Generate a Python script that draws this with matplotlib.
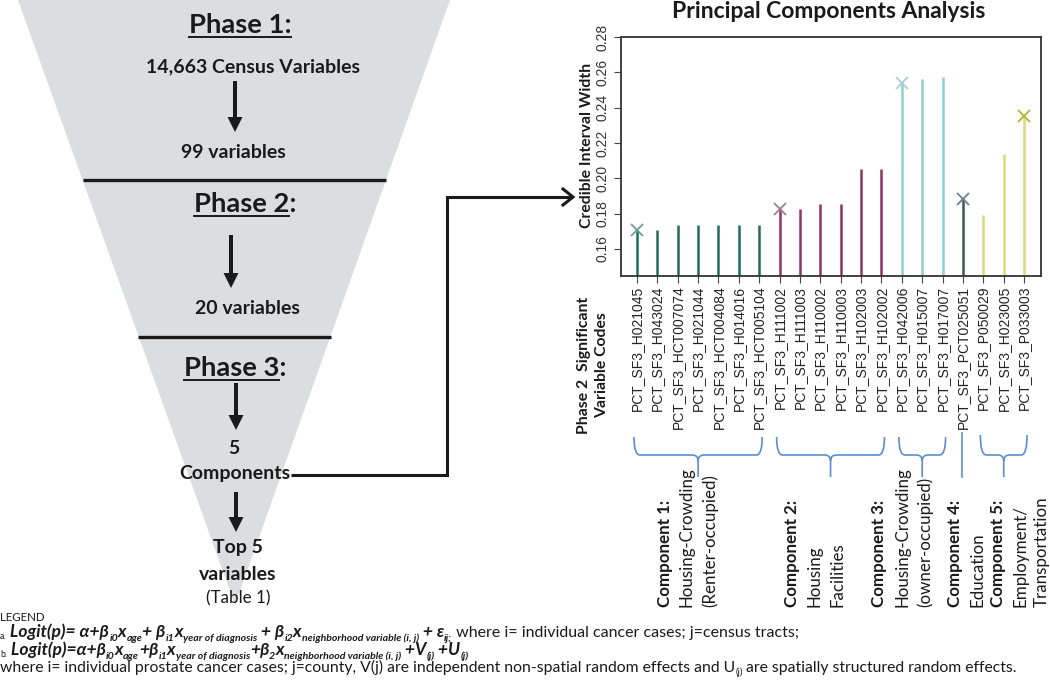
import matplotlib
matplotlib.use("Agg")
import matplotlib.pyplot as plt
import numpy as np
from matplotlib.patches import Polygon, FancyArrow, PathPatch
from matplotlib.path import Path

# variable codes, credible interval width, and the component each belongs to
codes = ["PCT_SF3_H021045", "PCT_SF3_H043024", "PCT_SF3_HCT007074", "PCT_SF3_H021044",
         "PCT_SF3_HCT004084", "PCT_SF3_H014016", "PCT_SF3_HCT005104", "PCT_SF3_H111002",
         "PCT_SF3_H111003", "PCT_SF3_H110002", "PCT_SF3_H110003", "PCT_SF3_H102003",
         "PCT_SF3_H102002", "PCT_SF3_H042006", "PCT_SF3_H015007", "PCT_SF3_H017007",
         "PCT_SF3_PCT025051", "PCT_SF3_P050029", "PCT_SF3_H023005", "PCT_SF3_P033003"]
ci_width = [0.171, 0.171, 0.1735, 0.1735, 0.1735, 0.1735, 0.1735, 0.1825, 0.1825, 0.1855,
            0.1855, 0.2055, 0.2055, 0.254, 0.2565, 0.2575, 0.1885, 0.1795, 0.214, 0.235]
component = [1, 1, 1, 1, 1, 1, 1, 2, 2, 2, 2, 2, 2, 3, 3, 3, 4, 5, 5, 5]
most_significant = [0, 7, 13, 16, 19]

comp_titles = ["Component 1:", "Component 2:", "Component 3:", "Component 4:", "Component 5:"]
comp_desc = [["Housing-Crowding", "(Renter-occupied)"], ["Housing", "Facilities"],
             ["Housing-Crowding", "(owner-occupied)"], ["Education"],
             ["Employment/", "Transportation"]]
y_ticks = [0.16, 0.18, 0.20, 0.22, 0.24, 0.26, 0.28]

funnel_steps = [("14,663 Census Variables", 253, 67), ("99 variables", 233, 152),
                ("20 variables", 247, 308), ("5", 234, 448), ("Components", 235, 474),
                ("Top 5", 238, 548), ("variables", 238, 575)]

bar_colors = {1: "#1f6b5c", 2: "#8a3467", 3: "#8dcfd1", 4: "#3e5566", 5: "#d8db7d"}
x_colors = {1: "#6f9c95", 2: "#9a8090", 3: "#a9cfd2", 4: "#6d808d", 5: "#b3b330"}
SANS = ["Lato", "DejaVu Sans"]
INK = "#1a1a1a"
BLUE = "#5b8ed1"

fig = plt.figure(figsize=(10.5, 6.84), dpi=100)
ov = fig.add_axes([0, 0, 1, 1])
ov.set_xlim(0, 1050)
ov.set_ylim(684, 0)
ov.axis("off")
r = fig.canvas.get_renderer()


def width_of(s, **kw):
    t = ov.text(0, 0, s, **kw)
    w = t.get_window_extent(r).width
    t.remove()
    return w


def advance(s, **kw):
    # pen advance of s, spaces included
    return width_of("|" + s + "|", **kw) - width_of("||", **kw)


def fit(s, target, base=12, **kw):
    return base * target / width_of(s, fontsize=base, **kw)


# ---- funnel ----
ov.add_patch(Polygon([(18, 0), (450, 0), (235, 605)], closed=True, fc="#dcdddf", ec="none"))
ov.plot([83, 386], [180, 180], color=INK, lw=2.4, solid_capstyle="butt")
ov.plot([138, 331], [337, 337], color=INK, lw=2.4, solid_capstyle="butt")

fs_phase = fit("Phase 1:", 102, fontweight="bold", family=SANS)
for label, under, cx, cy in [("Phase 1:", "Phase 1:", 240, 25), ("Phase 2:", "Phase 2", 245, 204),
                             ("Phase 3:", "Phase 3", 235, 368)]:
    t = ov.text(cx, cy, label, fontsize=fs_phase, fontweight="bold", family=SANS,
                ha="center", va="center", color=INK)
    x0 = t.get_window_extent(r).x0
    uw = width_of(under, fontsize=fs_phase, fontweight="bold", family=SANS)
    ov.plot([x0, x0 + uw], [cy + 12, cy + 12], color=INK, lw=1.4)

fs_step = fit("14,663 Census Variables", 212, fontweight="bold", family=SANS)
for s, cx, cy in funnel_steps:
    ov.text(cx, cy, s, fontsize=fs_step, fontweight="bold", family=SANS,
            ha="center", va="center", color=INK)
ov.text(238, 598, "(Table 1)", fontsize=fit("(Table 1)", 64, family=SANS), family=SANS,
        ha="center", va="center", color=INK)

for x, y0, y1 in [(235, 81, 132), (231, 235, 288), (236, 383, 430), (236, 492, 532)]:
    ov.add_patch(FancyArrow(x, y0, 0, y1 - y0, width=4, head_width=15, head_length=15,
                            length_includes_head=True, fc=INK, ec="none"))

ov.plot([291, 447, 447, 572], [475, 475, 197, 197], color=INK, lw=2.2,
        solid_joinstyle="miter", solid_capstyle="butt")
ov.plot([563, 573, 563], [189, 197, 205], color=INK, lw=2.2, solid_joinstyle="miter")

# ---- chart ----
ax = fig.add_axes([621 / 1050, (684 - 276) / 684, 420 / 1050, 239 / 684])
xs = np.arange(1, len(codes) + 1)
cols = [bar_colors[c] for c in component]
ax.vlines(xs, 0, ci_width, colors=cols, lw=1.8)
for i in most_significant:
    ax.plot(xs[i], ci_width[i], "x", ms=9, mew=1.3, color=x_colors[component[i]])
ax.set_xlim(0.215, 20.83)
ax.set_ylim(0.1447, 0.28)
ax.set_xticks(xs)
ax.set_xticklabels(codes, rotation=90, family="Liberation Sans", fontsize=10, color="#222")
ax.set_yticks(y_ticks)
ax.set_yticklabels([f"{v:.2f}" for v in y_ticks], rotation=90, va="center",
                   family="Liberation Sans", fontsize=10, color="#333")
ax.tick_params(axis="x", length=5, color="#444", pad=2)
ax.tick_params(axis="y", length=5, color="#444", pad=3)
for sp in ax.spines.values():
    sp.set_color("#333")
    sp.set_linewidth(1.3)

ov.text(829, 11, "Principal Components Analysis", fontweight="bold", family=SANS,
        fontsize=fit("Principal Components Analysis", 312, fontweight="bold", family=SANS),
        ha="center", va="center", color=INK)
fs_ylab = fit("Credible Interval Width", 164, fontweight="bold", family=SANS)
ov.text(587, 145, "Credible Interval Width", fontsize=fs_ylab, fontweight="bold", family=SANS,
        rotation=90, ha="center", va="center", color=INK)
fs_note = fit("X= most significant variable in", 148, family=SANS)
ov.text(652, 87, "X= most significant variable in", fontsize=fs_note, family=SANS, va="center", color="#222")
ov.text(652, 102, "each color-coded component", fontsize=fs_note, family=SANS, va="center", color="#222")
ov.text(631, 169, "Top", fontsize=11, family=SANS, va="center", color="#222")
ov.text(631, 187, "hit", fontsize=11, family=SANS, va="center", color="#222")
ov.add_patch(FancyArrow(638, 195, 0, 21, width=2.2, head_width=9, head_length=9,
                        length_includes_head=True, fc="#4a7ec6", ec="none"))

ov.text(593, 365, "Phase 2  Significant\nVariable Codes", fontsize=fs_ylab, fontweight="bold",
        family=SANS, rotation=90, ha="center", va="center", multialignment="center",
        linespacing=1.3, color=INK)

# ---- braces and component labels ----
fig.canvas.draw()
px = ax.transData.transform(np.column_stack([xs, np.full(len(xs), 0.2)]))[:, 0]


def brace(x0, x1, yt, ym, yb, rad=6):
    xc = (x0 + x1) / 2
    verts = [(x0, yt), (x0, ym), (x0 + rad, ym), (xc - rad, ym), (xc, ym), (xc, ym + rad), (xc, yb),
             (xc, ym + rad), (xc, ym), (xc + rad, ym), (x1 - rad, ym), (x1, ym), (x1, yt)]
    codes_ = [Path.MOVETO, Path.CURVE3, Path.CURVE3, Path.LINETO, Path.CURVE3, Path.CURVE3, Path.LINETO,
              Path.MOVETO, Path.CURVE3, Path.CURVE3, Path.LINETO, Path.CURVE3, Path.CURVE3]
    ov.add_patch(PathPatch(Path(verts, codes_), fc="none", ec=BLUE, lw=1.2))


comp_arr = np.array(component)
for c in range(1, 6):
    idx = np.where(comp_arr == c)[0]
    x0, x1 = px[idx[0]] - 3, px[idx[-1]] + 3
    if len(idx) == 1:
        ov.plot([px[idx[0]] - 1, px[idx[0]] - 1], [433, 477], color=BLUE, lw=1.2)
    else:
        brace(x0, x1, 435 if c == 5 else 437, 455, 477)

fs_comp = fit("Component 1:", 106, fontweight="bold", family=SANS)
comp_cols = [[665, 687, 710], [792, 814, 837], [879, 902, 925], [955, 977], [998, 1020, 1042]]
for title, desc, colx in zip(comp_titles, comp_desc, comp_cols):
    ov.text(colx[0], 607, title, fontsize=fs_comp, fontweight="bold", family=SANS,
            rotation=90, ha="center", va="bottom", color=INK)
    for s, x in zip(desc, colx[1:]):
        ov.text(x, 607, s, fontsize=fs_comp, family=SANS, rotation=90,
                ha="center", va="bottom", color=INK)

# ---- legend equations ----
STYLE = {"m": (1.0, 0.0, "bold", "italic"), "s": (0.6, 0.22, "bold", "italic"),
         "r": (1.0, 0.0, "normal", "normal"), "rs": (0.6, 0.22, "normal", "normal"),
         "l": (0.5, 0.12, "normal", "normal")}


def runs(x, y, items, base, reg=None, keep=True):
    reg = reg or base
    for s, kind in items:
        k, dy, w, st = STYLE[kind]
        size = (reg if kind.startswith("r") else base) * k
        kw = dict(fontsize=size, fontweight=w, fontstyle=st, family=SANS)
        if keep:
            ov.text(x, y + dy * size / k * 100 / 72, s, va="baseline", ha="left", color=INK, **kw)
        x += advance(s, **kw)
    return x


line_a = [("a.", "l"), (" Logit(p)= α+β", "m"), ("i0", "s"), ("x", "m"), ("age", "s"), ("+ β", "m"),
          ("i1", "s"), ("x", "m"), ("year of diagnosis", "s"), (" + β", "m"), ("i2", "s"), ("x", "m"),
          ("neighborhood variable (i, j)", "s"), (" + ε", "m"), ("ij;", "s")]
tail_a = [(" where i= individual cancer cases; j=census tracts;", "r")]
line_b = [("b.", "l"), (" Logit(p)=α+β", "m"), ("i0", "s"), ("x", "m"), ("age", "s"), ("+β", "m"),
          ("i1", "s"), ("x", "m"), ("year of diagnosis", "s"), ("+β", "m"), ("2", "s"), ("x", "m"),
          ("neighborhood variable (i, j)", "s"), (" +V", "m"), ("(j)", "s"), (" +U", "m"), ("(j)", "s")]
line_c = [("where i= individual prostate cancer cases; j=county, V(j) are independent non-spatial "
           "random effects and U", "r"), ("(j)", "rs"), (" are spatially structured random effects.", "r")]

ov.text(0, 621, "LEGEND", fontsize=fit("LEGEND", 45, family=SANS), family=SANS,
        va="baseline", color=INK)
base_m = 12 * 468 / runs(0, 0, line_b, 12, keep=False)
end_a = runs(0, 637, line_a, base_m)
reg_a = 12 * (797 - end_a) / runs(0, 0, tail_a, 12, keep=False)
runs(end_a, 637, tail_a, base_m, reg=reg_a)
runs(0, 655, line_b, base_m)
base_c = 12 * 1013 / runs(0, 0, line_c, 12, keep=False)
runs(0, 672, line_c, base_c)

fig.savefig("out.png", dpi=100)
